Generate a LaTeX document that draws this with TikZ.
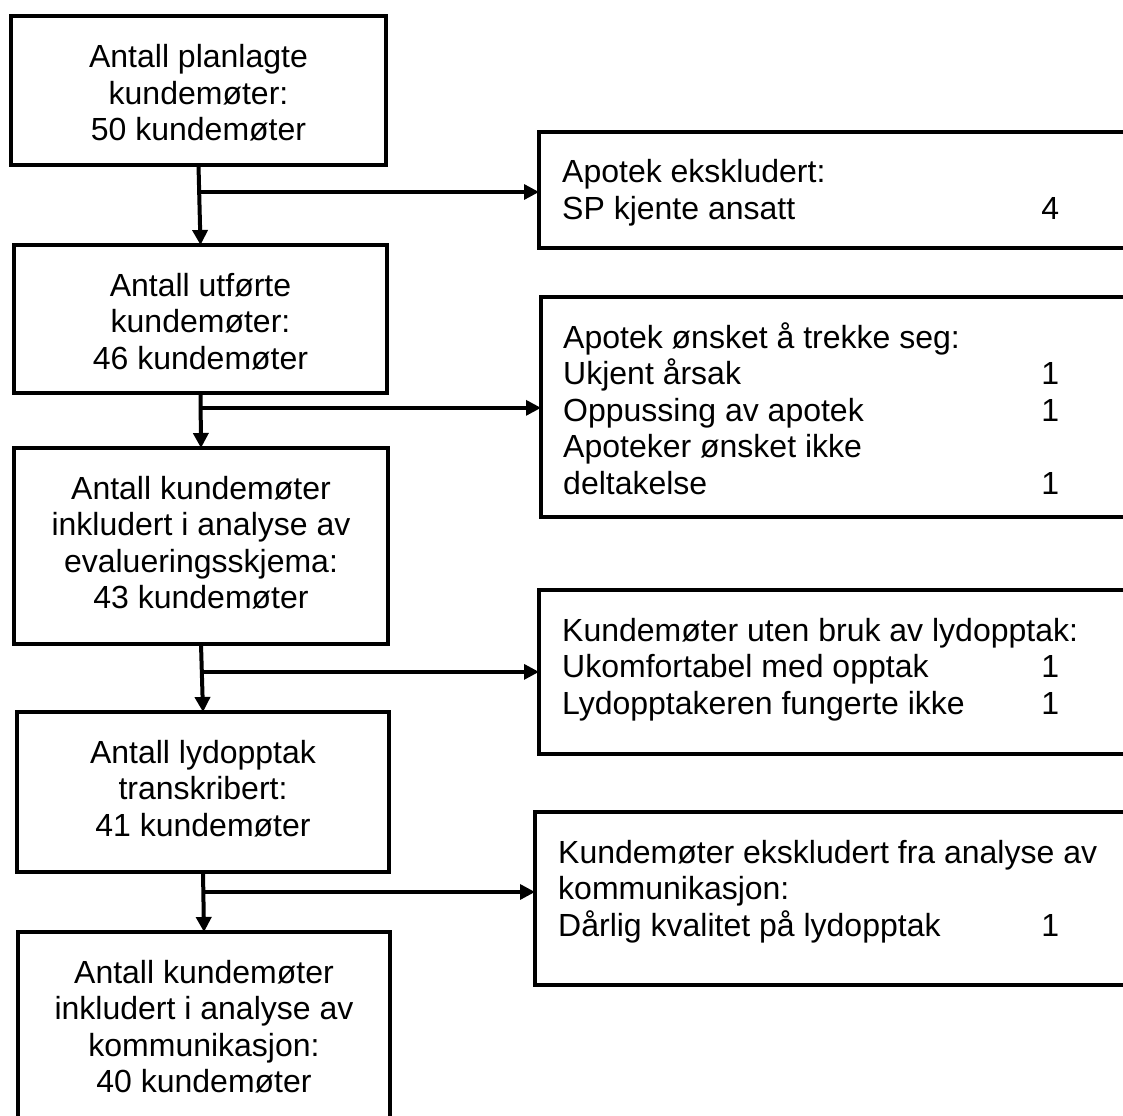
\documentclass[tikz,border=0pt]{standalone}
\usepackage{fontspec}
\setmainfont{Liberation Sans}
\usetikzlibrary{arrows.meta,calc}
\newcommand{\numrow}[3]{\makebox[#1][l]{#2\hfill #3}}
\begin{document}
\begin{tikzpicture}[x=1pt,y=-1pt,
  box/.style={draw,line width=4pt,inner sep=0pt,outer sep=0pt,anchor=north west},
  ctext/.style={inner sep=0pt,anchor=base,font=\fontsize{32}{36.5}\selectfont},
  ltext/.style={inner sep=0pt,anchor=base west,font=\fontsize{32}{36.5}\selectfont},
  varr/.style={line width=4pt,-{Triangle[length=15pt,width=15pt]}},
  harr/.style={line width=3.3pt,-{Triangle[length=15pt,width=15pt]}}]
\useasboundingbox (0,0) rectangle (1123,1115);
\clip (0,0) rectangle (1123,1115);
\fill[white] (0,0) rectangle (1123,1115);

% left column boxes
\node[box,minimum width=375pt,minimum height=149pt] (b1) at (11,16) {};
\node[box,minimum width=373pt,minimum height=148pt] (b2) at (14,245) {};
\node[box,minimum width=374pt,minimum height=196pt] (b3) at (14,448) {};
\node[box,minimum width=372pt,minimum height=160pt] (b4) at (17,712) {};
\node[box,minimum width=372pt,minimum height=215pt] (b5) at (18,932) {};

% right column boxes
\node[box,minimum width=600pt,minimum height=116pt] (r1) at (539,132) {};
\node[box,minimum width=600pt,minimum height=220pt] (r2) at (541,297) {};
\node[box,minimum width=600pt,minimum height=164pt] (r3) at (539,590) {};
\node[box,minimum width=600pt,minimum height=173pt] (r4) at (535,812) {};

% left texts
\node[ctext] (t1) at (198.5,68) {\parbox[t]{360pt}{\centering Antall planlagte\\kundemøter:\\50 kundemøter}};
\node[ctext] (t2) at (200.5,296) {\parbox[t]{360pt}{\centering Antall utførte\\kundemøter:\\46 kundemøter}};
\node[ctext] (t3) at (201,499) {\parbox[t]{360pt}{\centering Antall kundemøter\\inkludert i analyse av\\evalueringsskjema:\\43 kundemøter}};
\node[ctext] (t4) at (203,763) {\parbox[t]{360pt}{\centering Antall lydopptak\\transkribert:\\41 kundemøter}};
\node[ctext] (t5) at (204,983) {\parbox[t]{360pt}{\centering Antall kundemøter\\inkludert i analyse av\\kommunikasjon:\\40 kundemøter}};

% right texts
\node[ltext] (s1) at (562,183) {\parbox[t]{560pt}{\raggedright Apotek ekskludert:\\\numrow{497pt}{SP kjente ansatt}{4}}};
\node[ltext] (s2) at (563,348) {\parbox[t]{560pt}{\raggedright Apotek ønsket å trekke seg:\\\numrow{496pt}{Ukjent årsak}{1}\\\numrow{496pt}{Oppussing av apotek}{1}\\Apoteker ønsket ikke\\\numrow{496pt}{deltakelse}{1}}};
\node[ltext] (s3) at (562,641) {\parbox[t]{560pt}{\raggedright Kundemøter uten bruk av lydopptak:\\\numrow{497pt}{Ukomfortabel med opptak}{1}\\\numrow{497pt}{Lydopptakeren fungerte ikke}{1}}};
\node[ltext] (s4) at (558,863) {\parbox[t]{560pt}{\raggedright Kundemøter ekskludert fra analyse av\\kommunikasjon:\\\numrow{501pt}{Dårlig kvalitet på lydopptak}{1}}};

% vertical connectors
\draw[varr] (b1.south) -- (b2.north);
\draw[varr] (b2.south) -- (b3.north);
\draw[varr] (b3.south) -- (b4.north);
\draw[varr] (b4.south) -- (b5.north);

% branch points and side connectors
\coordinate (j1) at ($(b1.south)!0.3375!(b2.north)$);
\coordinate (j2) at ($(b2.south)!0.27!(b3.north)$);
\coordinate (j3) at ($(b3.south)!0.41!(b4.north)$);
\coordinate (j4) at ($(b4.south)!0.333!(b5.north)$);
\draw[harr] (j1) -- (j1 -| r1.west);
\draw[harr] (j2) -- (j2 -| r2.west);
\draw[harr] (j3) -- (j3 -| r3.west);
\draw[harr] (j4) -- (j4 -| r4.west);
\end{tikzpicture}
\end{document}
